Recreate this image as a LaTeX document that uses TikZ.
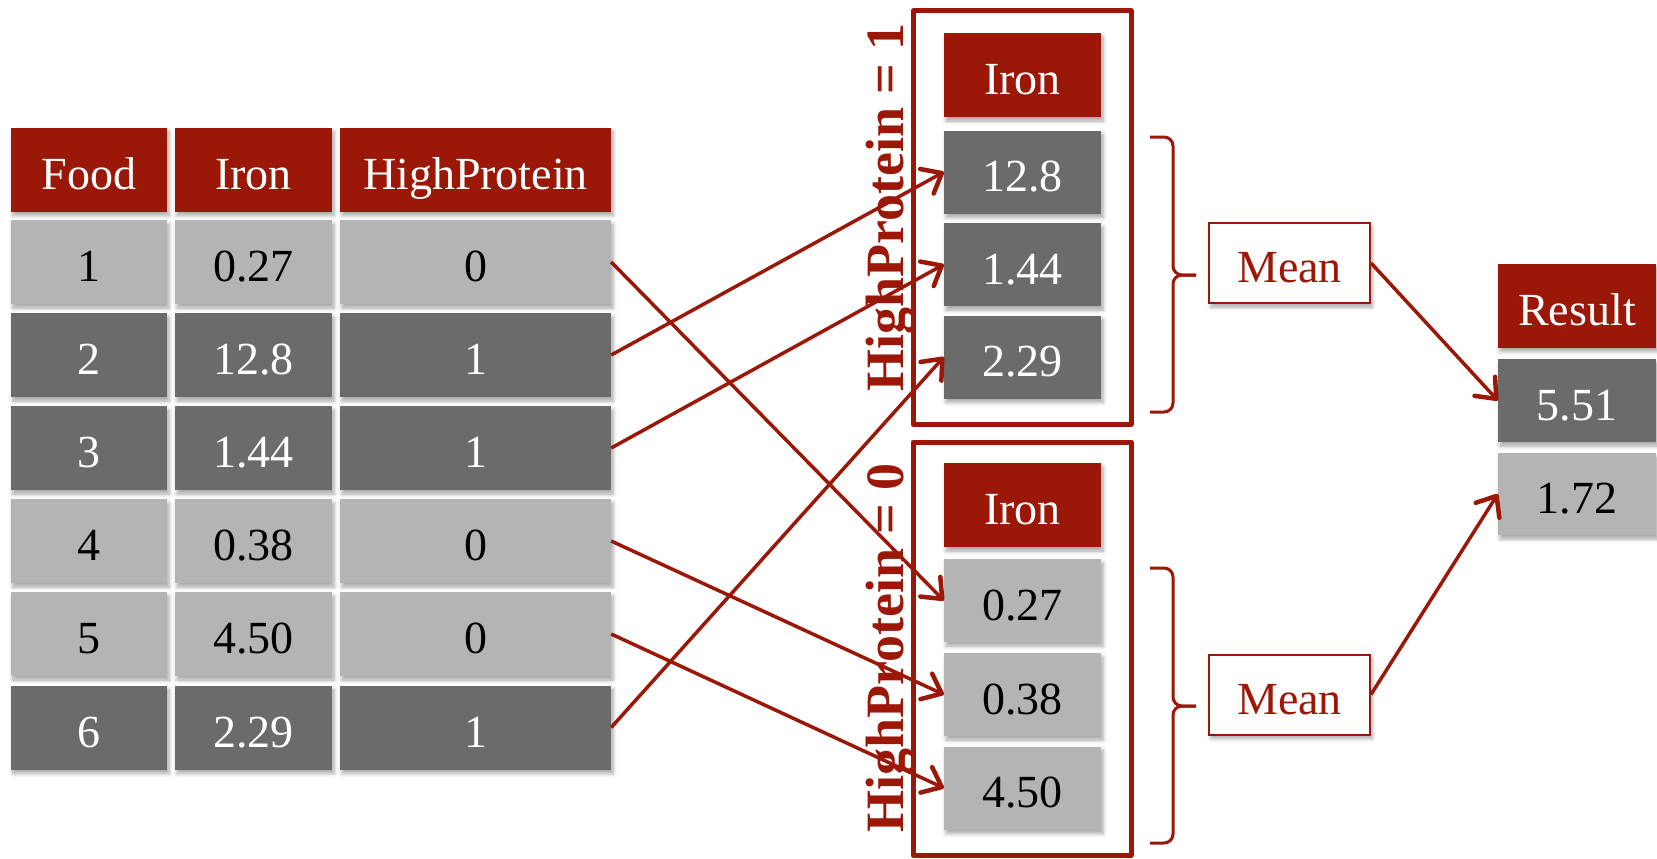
\documentclass[tikz,border=0pt]{standalone}
\usepackage{fontspec}
\setmainfont{Liberation Serif}
\usetikzlibrary{arrows.meta,shadows.blur}
\definecolor{cHdr}{RGB}{155,24,8}
\definecolor{cDark}{RGB}{107,107,107}
\definecolor{cLight}{RGB}{180,180,180}
\begin{document}
\begin{tikzpicture}[x=1pt,y=-1pt,
  basecell/.style={rectangle, inner sep=0pt, minimum height=84pt, text height=39pt, text depth=0pt,
    font=\fontsize{46}{50}\selectfont,
    blur shadow={shadow xshift=2pt, shadow yshift=-4pt, shadow blur radius=4pt, shadow blur steps=5, shadow opacity=35}},
  hdcell/.style={basecell, fill=cHdr, text=white},
  darkcell/.style={basecell, fill=cDark, text=white},
  lightcell/.style={basecell, fill=cLight, text=black},
  meanbox/.style={basecell, fill=white, draw=cHdr, line width=2pt, text=cHdr, minimum width=161pt, minimum height=80pt},
  grp/.style={draw=cHdr, line width=5pt, line join=round},
  grplabel/.style={rotate=90, anchor=base, inner sep=0pt, text=cHdr, font=\fontsize{54}{58}\selectfont\bfseries},
  arr/.style={draw=cHdr, line width=3.5pt, -{Straight Barb[length=17pt,width=28pt,line width=4.5pt,round]}},
  bracepath/.style={draw=cHdr, line width=3pt, rounded corners=9pt},
]
\useasboundingbox (0,0) rectangle (1657,859);

% group frames and labels
\draw[grp] (913,11) rectangle (1131,424);
\draw[grp] (913,442) rectangle (1131,855);
\node[grplabel] (lab1) at (903,207.5) {HighProtein = 1};
\node[grplabel] (lab0) at (903,648) {HighProtein = 0};

% table header
\node[hdcell, minimum width=156pt] (hF) at (89,169.5) {Food};
\node[hdcell, minimum width=157pt] (hI) at (253.5,169.5) {Iron};
\node[hdcell, minimum width=271pt] (hH) at (475.5,169.5) {HighProtein};

% rows
\node[lightcell, minimum width=156pt] (r1a) at (89,262) {1};
\node[lightcell, minimum width=157pt] (r1b) at (253.5,262) {0.27};
\node[lightcell, minimum width=271pt] (r1c) at (475.5,262) {0};

\node[darkcell, minimum width=156pt] (r2a) at (89,355) {2};
\node[darkcell, minimum width=157pt] (r2b) at (253.5,355) {12.8};
\node[darkcell, minimum width=271pt] (r2c) at (475.5,355) {1};

\node[darkcell, minimum width=156pt] (r3a) at (89,448) {3};
\node[darkcell, minimum width=157pt] (r3b) at (253.5,448) {1.44};
\node[darkcell, minimum width=271pt] (r3c) at (475.5,448) {1};

\node[lightcell, minimum width=156pt] (r4a) at (89,541) {4};
\node[lightcell, minimum width=157pt] (r4b) at (253.5,541) {0.38};
\node[lightcell, minimum width=271pt] (r4c) at (475.5,541) {0};

\node[lightcell, minimum width=156pt] (r5a) at (89,634) {5};
\node[lightcell, minimum width=157pt] (r5b) at (253.5,634) {4.50};
\node[lightcell, minimum width=271pt] (r5c) at (475.5,634) {0};

\node[darkcell, minimum width=156pt] (r6a) at (89,727.5) {6};
\node[darkcell, minimum width=157pt] (r6b) at (253.5,727.5) {2.29};
\node[darkcell, minimum width=271pt] (r6c) at (475.5,727.5) {1};

% group 1
\node[hdcell, minimum width=157pt] (g1h) at (1022.5,75) {Iron};
\node[darkcell, minimum width=157pt, minimum height=83pt] (g1a) at (1022.5,172) {12.8};
\node[darkcell, minimum width=157pt, minimum height=83pt] (g1b) at (1022.5,264.5) {1.44};
\node[darkcell, minimum width=157pt, minimum height=83pt] (g1c) at (1022.5,357) {2.29};

% group 0
\node[hdcell, minimum width=157pt] (g0h) at (1022.5,505) {Iron};
\node[lightcell, minimum width=157pt, minimum height=83pt] (g0a) at (1022.5,600.5) {0.27};
\node[lightcell, minimum width=157pt, minimum height=83pt] (g0b) at (1022.5,694.5) {0.38};
\node[lightcell, minimum width=157pt, minimum height=83pt] (g0c) at (1022.5,788) {4.50};

% braces
\draw[bracepath] (1150,137) -| (1173,275) -- (1196,275);
\draw[bracepath] (1196,275) -- (1173,275) |- (1150,412);
\draw[bracepath] (1150,568) -| (1173,706) -- (1196,706);
\draw[bracepath] (1196,706) -- (1173,706) |- (1150,843);

% mean boxes
\node[meanbox] (m1) at (1289.5,263) {Mean};
\node[meanbox] (m0) at (1289.5,694.5) {Mean};

% result
\node[hdcell, minimum width=158pt] (resh) at (1577,305.5) {Result};
\node[darkcell, minimum width=158pt, minimum height=83pt] (res1) at (1577,400.5) {5.51};
\node[lightcell, minimum width=158pt, minimum height=82pt] (res0) at (1577,494) {1.72};

% arrows
\draw[arr] (r1c.east) -- (g0a.west);
\draw[arr] (r2c.east) -- (g1a.west);
\draw[arr] (r3c.east) -- (g1b.west);
\draw[arr] (r4c.east) -- (g0b.west);
\draw[arr] (r5c.east) -- (g0c.west);
\draw[arr] (r6c.east) -- (g1c.west);
\draw[arr] (m1.east) -- (res1.west);
\draw[arr] (m0.east) -- (res0.west);
\end{tikzpicture}
\end{document}
